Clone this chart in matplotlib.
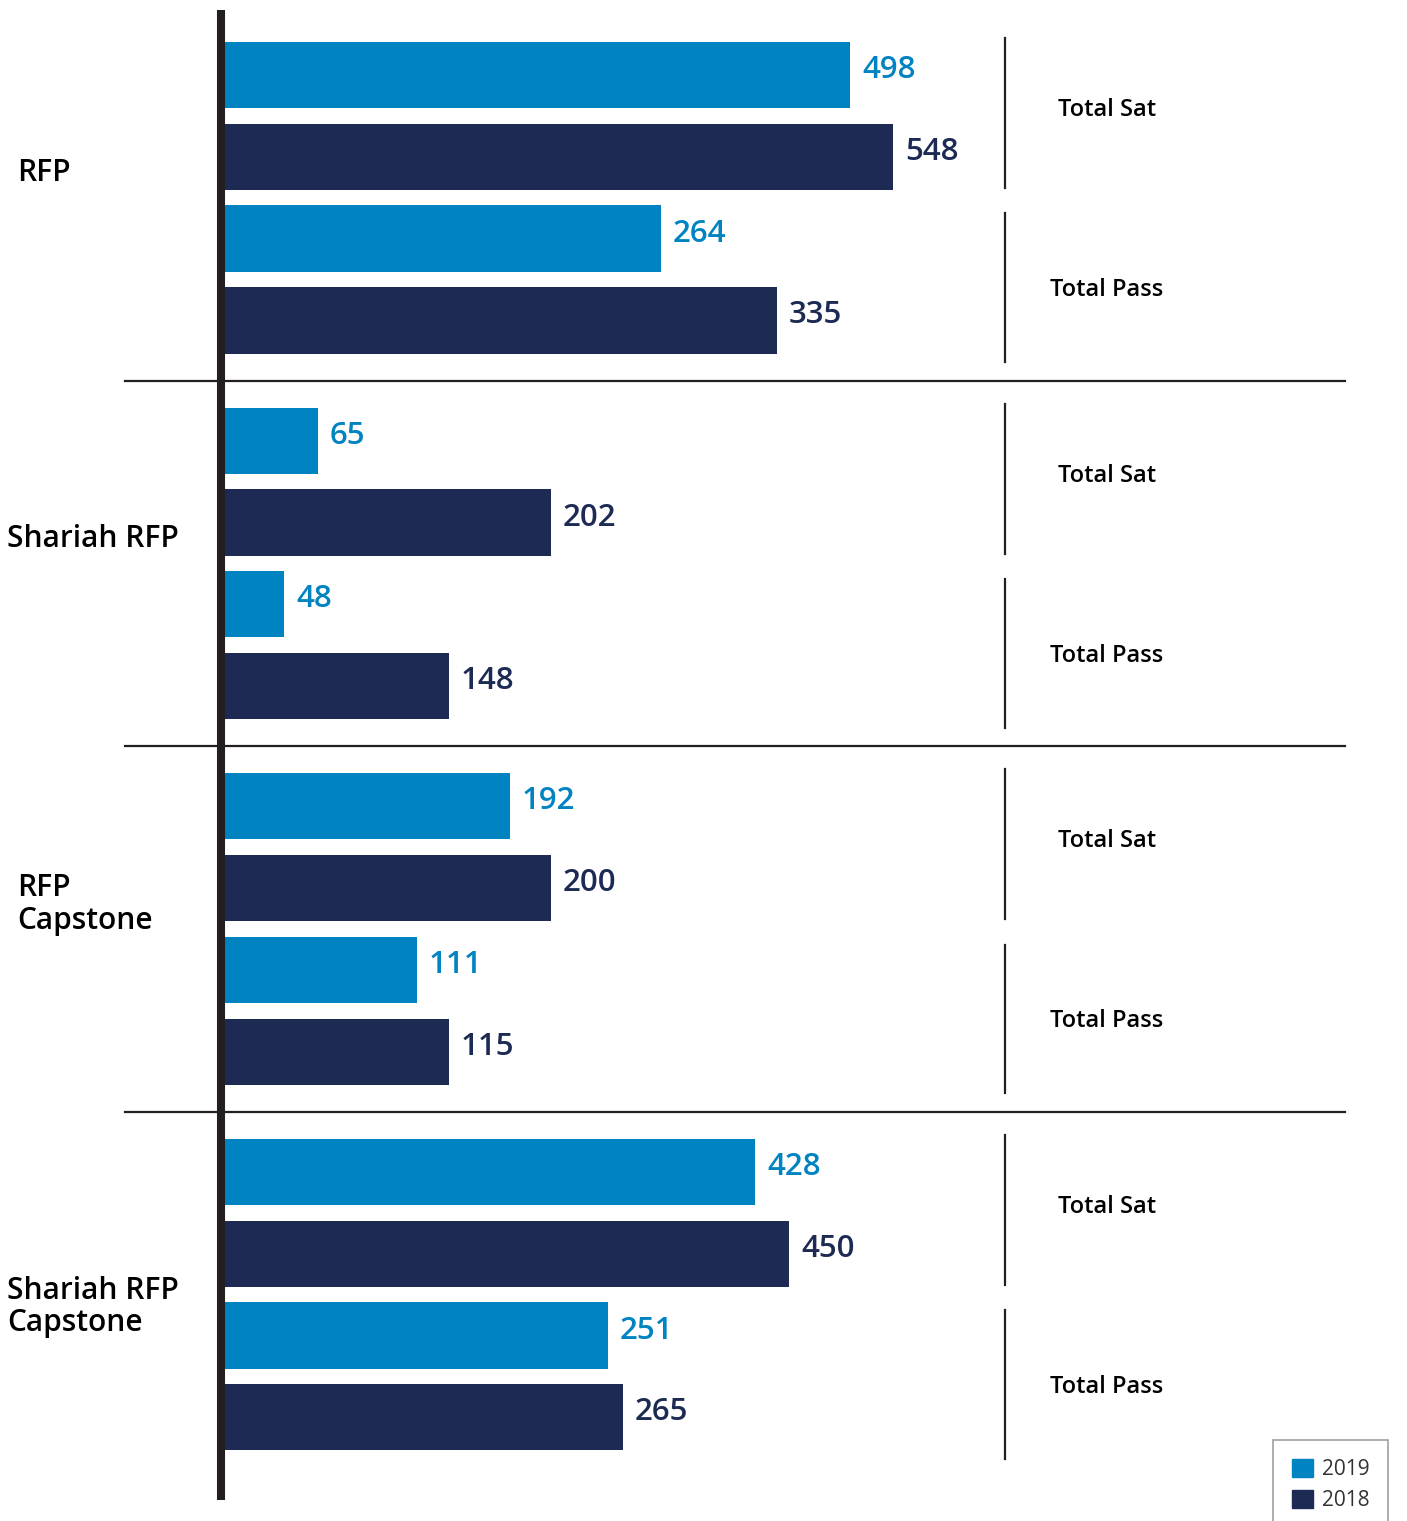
import numpy as np
import matplotlib.pyplot as plt
from matplotlib.patches import Patch

plt.rcParams['font.family'] = ['Open Sans', 'DejaVu Sans']

groups = ['RFP', 'Shariah RFP', 'RFP\nCapstone', 'Shariah RFP\nCapstone']
metrics = ['Total Sat', 'Total Pass']
years = ['2019', '2018']

# values shown on the labels (per group: sat 2019, sat 2018, pass 2019, pass 2018)
values = [498, 548, 264, 335,
          65, 202, 48, 148,
          192, 200, 111, 115,
          428, 450, 251, 265]
# drawn bar lengths as measured in the original infographic (not to scale with values)
bar_len = [625, 668, 436, 552,
           93, 326, 59, 224,
           285, 326, 192, 224,
           530, 564, 383, 398]

c19 = '#0083c1'
c18 = '#1d2a54'
dark = '#231f20'

pitch = 4.47
ypos = np.array([g * pitch + k for g in range(4) for k in range(4)])
cols = [c19, c18] * 8

# where the group names sit (x offset, y relative to group start)
lab_x = [-208, -218, -208, -218]
lab_y = [1.2, 1.2, 1.2, 1.65]

fig = plt.figure(figsize=(14.07, 15.21), dpi=100)
ax = fig.add_axes([0, 0, 1, 1])
ax.set_xlim(-225, 1182)
ax.set_ylim((1521 - 75) / 81.8, -75 / 81.8)
ax.axis('off')

ax.barh(ypos, bar_len, height=0.81, color=cols, zorder=2)
for y, L, v, c in zip(ypos, bar_len, values, cols):
    ax.text(L + 12, y - 0.06, str(v), color=c, fontsize=22.5, fontweight='semibold',
            va='center', ha='left')

# main axis line
ax.plot([-4, -4], [-0.79, 17.42], color=dark, lw=5.8, zorder=3, solid_capstyle='butt')

# group separators
for g in range(3):
    ys = g * pitch + (3 + pitch) / 2
    ax.plot([-100, 1120], [ys, ys], color=dark, lw=1.6, zorder=1)

# group labels and metric brackets
for g, name in enumerate(groups):
    ax.text(lab_x[g], g * pitch + lab_y[g], name, fontsize=21.5, fontweight='semibold',
            va='center', ha='left', color='black', linespacing=1.1)
    for m, met in enumerate(metrics):
        y0 = g * pitch + 2 * m
        lo, hi, ty = [(-0.45, 1.38, 0.43), (-0.31, 1.51, 0.63)][m]
        ax.plot([780, 780], [y0 + lo, y0 + hi], color=dark, lw=1.6)
        ax.text(882, y0 + ty, met, fontsize=17, fontweight='semibold', va='center',
                ha='center', color='black')

handles = [Patch(color=c19, label=years[0]), Patch(color=c18, label=years[1])]
leg = fig.legend(handles=handles, loc='upper left',
                 bbox_to_anchor=(1273 / 1407, 1 - 1440 / 1521), borderaxespad=0,
                 fontsize=15, frameon=True, fancybox=False, handlelength=1.0,
                 handleheight=1.0, handletextpad=0.45, borderpad=0.9,
                 labelspacing=0.45, edgecolor='#888888')
leg.get_frame().set_linewidth(1.2)
for t in leg.get_texts():
    t.set_color('#333333')

fig.savefig('out.png', dpi=100)
